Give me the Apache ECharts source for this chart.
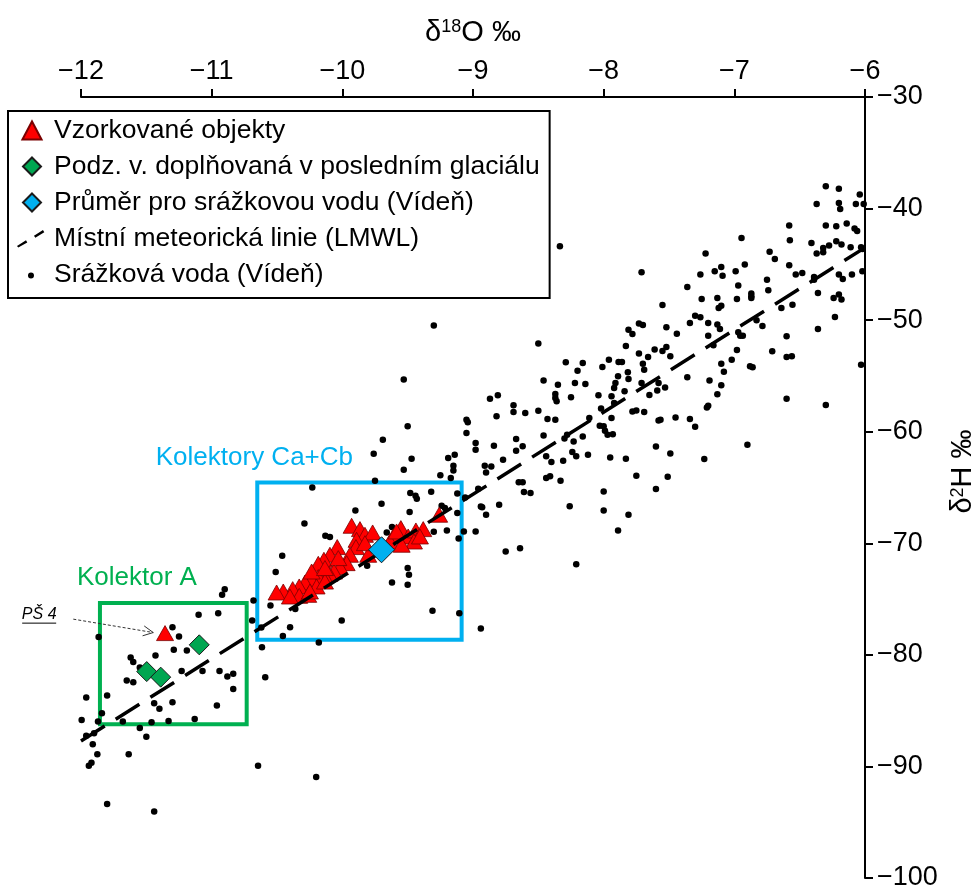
<!DOCTYPE html>
<html>
<head>
<meta charset="utf-8">
<script src="https://cdn.jsdelivr.net/npm/echarts@6/dist/echarts.min.js"></script>
<style>
  html, body { margin: 0; padding: 0; background: #fff; }
  #chart { width: 973px; height: 885px; }
</style>
</head>
<body>
<div id="chart"></div>
<script>
// Stable isotopes: δ18O (x) versus δ2H (y), per mille VSMOW

// Precipitation, Vienna (monthly samples)
const precipitation = [
  [-6.30,-38.0],[-6.20,-38.23],[-6.37,-39.58],[-6.20,-39.49],[-6.19,-40.03],[-6.07,-39.58],[-6.04,-38.74],[-6.01,-39.58],
  [-6.58,-41.52],[-6.30,-41.52],[-6.22,-41.58],[-6.14,-41.34],[-6.08,-41.79],[-6.06,-42.0],[-6.575,-42.84],[-6.41,-43.08],
  [-6.37,-44.03],[-6.32,-43.53],[-6.32,-43.91],[-6.275,-43.32],[-6.22,-42.93],[-6.18,-43.23],[-6.11,-43.47],[-6.03,-43.47],
  [-6.02,-43.62],[-6.73,-43.86],[-6.69,-44.52],[-6.58,-45.08],[-6.53,-45.92],[-6.48,-45.77],[-6.39,-46.13],[-6.39,-46.37],
  [-6.20,-45.92],[-6.17,-46.31],[-6.10,-45.92],[-6.02,-45.62],[-6.92,-45.02],[-6.945,-42.63],[-7.22,-44.03],[-7.10,-45.23],
  [-7.15,-45.62],[-6.99,-45.62],[-7.09,-46.01],[-7.26,-45.92],[-7.36,-47.02],[-6.97,-46.90],[-6.75,-46.37],[-6.74,-47.32],
  [-6.36,-47.56],[-6.20,-47.71],[-6.24,-48.01],[-6.18,-48.16],[-6.555,-48.61],[-6.64,-48.91],[-6.23,-49.71],[-6.36,-50.79],
  [-6.03,-53.99],[-6.30,-57.61],[-6.60,-57.04],[-6.60,-51.45],[-6.60,-53.30],[-6.56,-53.24],[-6.71,-52.79],[-6.785,-50.52],
  [-6.83,-50.01],[-7.25,-48.10],[-7.13,-48.01],[-7.10,-48.70],[-7.12,-48.91],[-6.98,-48.10],[-6.87,-47.62],[-6.87,-48.01],
  [-7.30,-49.60],[-7.26,-49.75],[-7.34,-50.26],[-7.20,-50.26],[-7.13,-50.40],[-7.11,-50.79],[-7.20,-51.39],[-7.16,-52.26],
  [-6.97,-51.09],[-6.955,-51.39],[-6.935,-51.39],[-6.98,-52.67],[-7.02,-53.54],[-7.10,-53.90],[-7.08,-54.62],[-7.19,-55.42],
  [-7.10,-55.84],[-7.13,-56.65],[-7.20,-57.67],[-7.21,-57.82],[-7.36,-55.12],[-7.44,-51.21],[-7.52,-50.64],[-7.55,-48.64],
  [-7.71,-45.71],[-7.73,-50.31],[-7.70,-50.43],[-7.81,-50.85],[-7.78,-51.24],[-7.83,-52.31],[-7.73,-53.0],[-7.66,-53.30],
  [-7.61,-52.64],[-7.55,-52.76],[-7.52,-52.40],[-7.49,-53.24],[-7.70,-53.90],[-7.69,-54.44],[-7.815,-54.68],[-7.81,-55.27],
  [-7.886,-53.75],[-7.86,-53.75],[-7.96,-53.54],[-7.89,-55.04],[-7.91,-55.63],[-7.92,-56.08],[-8.01,-54.20],[-8.16,-53.84],
  [-8.29,-53.78],[-8.20,-54.53],[-8.22,-55.63],[-8.14,-55.72],[-8.25,-56.92],[-8.04,-56.74],[-7.94,-56.83],[-7.92,-57.43],
  [-7.84,-56.38],[-7.71,-55.63],[-7.65,-56.71],[-7.59,-56.31],[-7.53,-56.03],[-7.58,-55.63],[-7.78,-58.18],[-7.75,-58.09],
  [-7.69,-58.24],[-7.58,-58.99],[-7.565,-58.93],[-7.45,-58.72],[-7.34,-58.87],[-7.30,-59.55],[-7.94,-58.78],[-8.02,-57.91],
  [-8.11,-58.78],[-8.03,-59.46],[-8.00,-59.52],[-7.99,-59.91],[-7.97,-60.28],[-7.93,-60.22],[-8.16,-60.42],[-8.23,-60.87],
  [-8.28,-60.28],[-8.30,-60.60],[-7.60,-61.32],[-6.90,-61.17],[-8.335,-43.38],[-6.86,-54.23],[-6.88,-54.14],[-6.87,-47.86],
  [-9.30,-50.49],[-8.50,-52.10],[-9.53,-55.33],[-9.50,-59.52],[-9.69,-60.72],[-9.47,-62.42],[-9.53,-63.41],[-9.25,-63.91],
  [-9.19,-62.36],[-9.14,-62.06],[-9.15,-63.05],[-9.15,-63.47],[-9.17,-64.15],[-9.05,-58.92],[-9.04,-59.16],[-9.05,-60.12],
  [-8.98,-61.01],[-8.98,-61.61],[-8.84,-61.25],[-8.87,-57.04],[-8.81,-56.74],[-8.82,-58.62],[-8.77,-62.51],[-8.91,-63.05],
  [-8.86,-63.11],[-8.90,-63.65],[-8.67,-60.66],[-8.62,-61.31],[-8.67,-61.70],[-8.69,-57.63],[-8.69,-58.23],[-8.60,-58.32],
  [-8.50,-58.11],[-8.46,-55.42],[-8.43,-58.86],[-8.37,-58.92],[-8.46,-60.33],[-8.44,-62.21],[-8.40,-62.72],[-8.31,-62.60],
  [-8.44,-64.15],[-8.41,-64.00],[-8.33,-64.39],[-8.65,-64.54],[-8.62,-64.54],[-8.61,-65.41],[-8.56,-65.50],[-9.32,-65.38],
  [-9.12,-65.53],[-9.06,-65.89],[-9.48,-65.50],[-9.44,-65.74],[-8.35,-55.78],[-8.37,-56.62],[-8.37,-56.98],[-8.36,-57.28],
  [-8.24,-61.82],[-8.21,-62.21],[-8.12,-62.06],[-7.95,-62.30],[-7.83,-62.42],[-7.75,-63.95],[-7.60,-65.14],[-8.00,-65.35],
  [-7.49,-61.95],[-7.23,-62.45],[-7.51,-64.04],[-8.80,-66.55],[-8.94,-66.70],[-8.93,-66.76],[-8.90,-67.45],[-9.07,-68.94],
  [-8.98,-68.94],[-8.75,-70.74],[-8.64,-70.44],[-8.26,-66.67],[-8.00,-67.06],[-7.81,-67.45],[-7.89,-68.85],[-8.21,-71.87],
  [-8.94,-77.64],
  [-10.23,-65.0],[-9.76,-61.97],[-9.75,-64.40],[-9.70,-66.46],[-9.485,-67.20],[-9.90,-67.06],[-9.24,-66.64],[-9.215,-66.84],
  [-9.12,-67.29],[-10.29,-68.22],[-10.13,-69.33],[-10.095,-69.44],[-9.66,-69.03],[-9.62,-68.55],[-9.30,-68.97],[-9.20,-68.85],
  [-9.11,-69.57],[-10.46,-71.12],[-10.51,-72.58],[-9.81,-72.02],[-9.50,-72.22],[-9.49,-72.83],[-9.50,-73.72],[-9.62,-73.52],
  [-10.68,-75.13],[-10.55,-75.58],[-10.36,-75.90],[-9.31,-76.05],[-9.105,-76.26],[-10.69,-76.92],[-10.62,-77.55],[-10.40,-77.52],
  [-10.455,-78.30],[-10.18,-78.90],[-10.005,-76.92],[-10.615,-79.31],[-10.835,-81.70],[-10.59,-82.0],[-10.835,-83.05],
  [-10.645,-89.93],[-10.20,-90.94],[-9.43,-66.01],[-8.96,-65.11],
  [-10.90,-74.11],[-10.92,-74.62],[-11.10,-76.41],[-10.95,-76.26],[-11.30,-77.52],[-11.25,-78.36],[-11.865,-78.41],[-11.29,-79.55],
  [-11.19,-79.61],[-11.43,-80.06],[-11.62,-80.24],[-11.60,-80.65],[-11.55,-81.14],[-11.23,-81.44],[-11.07,-81.44],[-10.94,-81.44],
  [-10.88,-81.95],[-11.65,-82.30],[-11.60,-82.45],[-11.80,-83.65],[-11.96,-83.83],[-11.44,-84.33],[-11.40,-84.84],[-11.30,-84.24],
  [-10.96,-84.55],[-11.13,-85.74],[-11.33,-85.92],[-11.46,-86.04],[-11.55,-86.55],[-11.50,-87.33],[-11.68,-85.98],[-11.84,-85.23],
  [-11.87,-85.98],[-11.995,-85.83],[-11.90,-87.02],[-11.96,-87.26],[-11.91,-88.01],[-11.875,-88.91],[-11.635,-88.91],
  [-11.94,-89.93],[-11.92,-89.66],[-11.80,-93.36],[-11.44,-94.05]
];

// Sampled springs and wells
const sampledObjects = [
  [-9.259,-67.44],[-9.552,-68.64],[-9.611,-69.39],[-9.636,-69.84],[-9.496,-69.39],[-9.437,-68.85],[-9.381,-68.73],
  [-9.452,-69.84],[-9.546,-70.13],[-9.929,-68.43],[-9.865,-68.73],[-9.827,-69.24],[-9.768,-69.03],[-9.891,-69.69],
  [-9.896,-70.34],[-10.039,-70.34],[-10.095,-71.03],[-10.141,-71.48],[-10.184,-71.84],[-9.802,-71.03],[-9.942,-71.03],
  [-9.967,-71.78],[-10.018,-72.13],[-10.064,-72.53],[-10.100,-72.74],[-10.141,-72.83],[-10.184,-73.03],[-10.235,-73.27],
  [-10.286,-73.52],[-10.330,-73.87],[-10.380,-74.11],[-10.452,-74.32],[-10.503,-74.41],[-10.330,-74.71],[-10.261,-74.62],
  [-10.197,-73.87],[-10.133,-73.43],[-10.235,-72.53],[-10.248,-74.32],[-10.401,-74.77],[-10.133,-72.22],[-10.031,-71.33],
  [-9.827,-69.99],[-9.585,-68.94],[-9.406,-69.39],
  [-11.357,-78.05]   // PŠ 4
];

// Groundwater recharged during the last glacial
const glacialGroundwater = [[-11.095,-79.10],[-11.497,-81.50],[-11.390,-82.00]];

// Mean of Vienna precipitation
const precipitationMean = [[-9.70,-70.58]];

// Local meteoric water line: δ2H = slope·δ18O + intercept
const lmwlSlope = 7.37;
const lmwlIntercept = 0.72;
const lmwlExtent = [-12, -6];

// Aquifer groupings (δ18O range, δ2H range)
const aquiferNames = ['Kolektor A', 'Kolektory Ca+Cb'];
const aquiferO18 = [[-11.855, -10.732], [-10.651, -9.087]];
const aquiferH2 = [[-75.36, -86.22], [-64.55, -78.65]];

// Axis extents
const xRange = [-12, -6];
const yRange = [-100, -30];

// ---------- presentation ----------
const FONT = '"Liberation Sans", Arial, sans-serif';
const aquiferColors = ['#00b050', '#00b0f0'];
const aquiferLabelAt = [[-11.572, -73.09], [-10.673, -62.36]];
const ps4LabelAt = [-12.32, -76.35];
const ps4ArrowFrom = [-12.059, -76.80];
const ps4ArrowTo = [-11.447, -78.0];

const minus = v => (v < 0 ? '\u2212' : '') + Math.abs(v);

const lmwlData = lmwlExtent.map(x => [x, lmwlSlope * x + lmwlIntercept]);

const NAMES = {
  samples: 'Vzorkované objekty',
  glacial: 'Podz. v. doplňovaná v posledním glaciálu',
  mean: 'Průměr pro srážkovou vodu (Vídeň)',
  lmwl: 'Místní meteorická linie (LMWL)',
  precip: 'Srážková voda (Vídeň)'
};

// legend glyphs; the dash and dot glyphs sit inside a fixed 34x18 frame so they keep their size
const FRAME = 'M0,0h0.01v0.01h-0.01z M34,18h0.01v0.01h-0.01z ';
const triIcon = 'path://M0,16L8.5,0L17,16Z';
const diamondIcon = 'path://M10,0L20,10L10,20L0,10Z';
const dashIcon = 'path://' + FRAME +
  'M2,16.4L11,10.8L12.3,12.9L3.3,18Z M19,6.2L28,0.6L29.3,2.7L20.3,8.3Z';
const dotIcon = 'path://' + FRAME + 'M13,10a3,3 0 1,0 6,0a3,3 0 1,0 -6,0z';

const chart = echarts.init(document.getElementById('chart'), null, { renderer: 'canvas' });

const axisNameStyle = {
  fontSize: 29, color: '#000', fontFamily: FONT,
  rich: { s: { fontSize: 18, verticalAlign: 'top', color: '#000', fontFamily: FONT } }
};

const option = {
  animation: false,
  backgroundColor: '#fff',
  textStyle: { fontFamily: FONT },
  grid: { left: 81, right: 108, top: 97, bottom: 7, containLabel: false, outerBoundsMode: 'none' },
  xAxis: {
    type: 'value', position: 'top', min: xRange[0], max: xRange[1], interval: 1,
    name: 'δ{s|18}O ‰', nameLocation: 'middle', nameGap: 50,
    nameTextStyle: axisNameStyle,
    axisLine: { onZero: false, lineStyle: { color: '#000', width: 2 } },
    axisTick: { length: 8, lineStyle: { color: '#000', width: 2 } },
    axisLabel: { fontSize: 27, color: '#000', margin: 12, formatter: minus, fontFamily: FONT },
    splitLine: { show: false }
  },
  yAxis: {
    type: 'value', position: 'right', min: yRange[0], max: yRange[1], interval: 10,
    name: 'δ{s|2}H ‰', nameLocation: 'middle', nameGap: 80, nameRotate: 90,
    nameTextStyle: Object.assign({}, axisNameStyle, { padding: [0, 0, 0, 32] }),
    axisLine: { onZero: false, lineStyle: { color: '#000', width: 2 } },
    axisTick: { length: 8, lineStyle: { color: '#000', width: 2 } },
    axisLabel: { fontSize: 27, color: '#000', margin: 12, formatter: minus, fontFamily: FONT },
    splitLine: { show: false }
  },
  legend: {
    orient: 'vertical', left: 8, top: 111,
    padding: [6, 10, 10, 7], itemGap: 9, itemWidth: 34, itemHeight: 18,
    borderColor: '#000', borderWidth: 2, borderRadius: 0, backgroundColor: '#fff',
    selectedMode: false,
    textStyle: { fontSize: 26.5, lineHeight: 26, color: '#000', fontFamily: FONT },
    data: [
      { name: NAMES.samples, icon: triIcon },
      { name: NAMES.glacial, icon: diamondIcon },
      { name: NAMES.mean, icon: diamondIcon },
      { name: NAMES.lmwl, icon: dashIcon, itemStyle: { color: '#000', borderWidth: 0 } },
      { name: NAMES.precip, icon: dotIcon, itemStyle: { color: '#000', borderWidth: 0 } }
    ]
  },
  series: [
    {
      name: 'aquifers', type: 'scatter', data: [], silent: true, z: 1,
      markArea: {
        silent: true,
        data: aquiferNames.map((n, i) => [
          { coord: [aquiferO18[i][0], aquiferH2[i][0]],
            itemStyle: { color: 'rgba(0,0,0,0)', borderColor: aquiferColors[i], borderWidth: 4 } },
          { coord: [aquiferO18[i][1], aquiferH2[i][1]] }
        ]),
        label: { show: false }
      }
    },
    {
      name: NAMES.precip, type: 'scatter', data: precipitation, symbol: 'circle', symbolSize: 6.5,
      itemStyle: { color: '#000', opacity: 1 }, z: 2, silent: true
    },
    {
      name: NAMES.samples, type: 'scatter', data: sampledObjects, symbol: 'triangle', symbolSize: [17, 15],
      itemStyle: { color: '#ff0000', borderColor: '#7a0000', borderWidth: 0.8, opacity: 1 }, z: 3, silent: true
    },
    {
      name: NAMES.lmwl, type: 'line', data: lmwlData, showSymbol: false, symbol: 'none',
      lineStyle: { color: '#000', width: 3.5, type: [28, 13] }, z: 4, silent: true
    },
    {
      name: NAMES.glacial, type: 'scatter', data: glacialGroundwater, symbol: 'diamond', symbolSize: [20, 20],
      itemStyle: { color: '#00a651', borderColor: '#1a1a1a', borderWidth: 1, opacity: 1 }, z: 5, silent: true
    },
    {
      name: NAMES.mean, type: 'scatter', data: precipitationMean, symbol: 'diamond', symbolSize: [26, 26],
      itemStyle: { color: '#00b0f0', borderColor: '#1a1a1a', borderWidth: 1, opacity: 1 }, z: 6, silent: true
    }
  ]
};

chart.setOption(option);

// Annotations positioned through the chart's own scales
function px(pt) { return chart.convertToPixel({ gridIndex: 0 }, pt); }

const graphics = [];
aquiferNames.forEach((n, i) => {
  const p = px(aquiferLabelAt[i]);
  graphics.push({
    type: 'text', x: p[0], y: p[1], z: 10, silent: true,
    style: { text: n, fill: aquiferColors[i], font: '26px ' + FONT, align: 'center', verticalAlign: 'middle' }
  });
});

const lp = px(ps4LabelAt);
graphics.push({
  type: 'text', x: lp[0], y: lp[1], z: 10, silent: true,
  style: { text: 'PŠ 4', fill: '#000', font: 'italic 16px ' + FONT, align: 'center', verticalAlign: 'middle' }
});
graphics.push({
  type: 'line', z: 10, silent: true,
  shape: { x1: lp[0] - 17, y1: lp[1] + 9, x2: lp[0] + 17, y2: lp[1] + 9 },
  style: { stroke: '#000', lineWidth: 1 }
});

const a0 = px(ps4ArrowFrom), a1 = px(ps4ArrowTo);
const dx = a1[0] - a0[0], dy = a1[1] - a0[1], len = Math.hypot(dx, dy);
const ux = dx / len, uy = dy / len, head = 10, half = 5;
graphics.push({
  type: 'line', z: 10, silent: true,
  shape: { x1: a0[0], y1: a0[1], x2: a1[0], y2: a1[1] },
  style: { stroke: '#333', lineWidth: 1, lineDash: [3, 2] }
});
graphics.push({
  type: 'polyline', z: 10, silent: true,
  shape: { points: [
    [a1[0] - ux * head - uy * half, a1[1] - uy * head + ux * half],
    [a1[0], a1[1]],
    [a1[0] - ux * head + uy * half, a1[1] - uy * head - ux * half]
  ] },
  style: { stroke: '#333', lineWidth: 1, fill: null }
});

chart.setOption({ graphic: graphics });
</script>
</body>
</html>
